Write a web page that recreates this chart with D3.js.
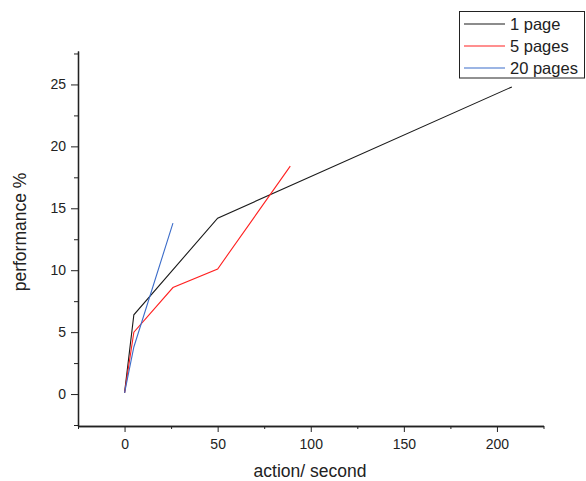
<!doctype html>
<html lang="en">
<head>
  <meta charset="UTF-8">
  <title>performance vs action rate</title>
  <style>
    * { padding: 0; margin: 0; }
    body { background: #fff; }
    text { font-family: "Liberation Sans", Arial, sans-serif; }
    .axis path, .axis line { stroke: #222; }
    .axis text { font-size: 14px; fill: #222; }
  </style>
  <script src="https://cdn.jsdelivr.net/npm/d3@7"></script>
</head>
<body>
  <svg width="586" height="481"></svg>
  <script>
    // data
    var seriesNames = ["1 page", "5 pages", "20 pages"];
    var seriesColors = ["#1a1a1a", "#ff2020", "#3b6cc9"];
    var onePageX = [0, 5, 50, 208];
    var onePageY = [0.1, 6.4, 14.2, 24.8];
    var fivePagesX = [0, 5, 26, 50, 89];
    var fivePagesY = [0.1, 5.0, 8.6, 10.1, 18.4];
    var twentyPagesX = [0, 5, 26];
    var twentyPagesY = [0.1, 3.8, 13.8];
    var xTicks = [0, 50, 100, 150, 200];
    var xMinor = [-25, 25, 75, 125, 175, 225];
    var yTicks = [0, 5, 10, 15, 20, 25];
    var yMinor = [-2.5, 2.5, 7.5, 12.5, 17.5, 22.5, 27.5];

    var series = [
      { xs: onePageX, ys: onePageY },
      { xs: fivePagesX, ys: fivePagesY },
      { xs: twentyPagesX, ys: twentyPagesY }
    ];

    var svg = d3.select("svg");

    var x = d3.scaleLinear().domain([-25, 225]).range([78, 543.5]);
    var y = d3.scaleLinear().domain([-2.58, 27.7]).range([426, 51]);

    // minor ticks first
    svg.append("g")
      .attr("class", "axis")
      .attr("transform", "translate(0," + y.range()[0] + ")")
      .call(d3.axisBottom(x).tickValues(xMinor).tickSize(3).tickSizeOuter(0).tickFormat(""));
    svg.append("g")
      .attr("class", "axis")
      .attr("transform", "translate(" + x.range()[0] + ",0)")
      .call(d3.axisLeft(y).tickValues(yMinor).tickSize(4).tickSizeOuter(0).tickFormat(""));

    svg.append("g")
      .attr("class", "axis")
      .attr("transform", "translate(0," + y.range()[0] + ")")
      .call(d3.axisBottom(x).tickValues(xTicks).tickSize(6).tickSizeOuter(0).tickPadding(7));
    svg.append("g")
      .attr("class", "axis")
      .attr("transform", "translate(" + x.range()[0] + ",0)")
      .call(d3.axisLeft(y).tickValues(yTicks).tickSize(7).tickSizeOuter(0).tickPadding(5));

    svg.selectAll(".axis path.domain").attr("stroke-width", 1.3);

    var line = d3.line()
      .x(function (d) { return x(d[0]); })
      .y(function (d) { return y(d[1]); });

    series.forEach(function (s, i) {
      var pts = s.xs.map(function (v, j) { return [v, s.ys[j]]; });
      svg.append("path")
        .datum(pts)
        .attr("fill", "none")
        .attr("stroke", seriesColors[i])
        .attr("stroke-width", 1.1)
        .attr("d", line);
    });

    // axis titles
    svg.append("text")
      .attr("x", 310)
      .attr("y", 477)
      .attr("text-anchor", "middle")
      .attr("font-size", 17.5)
      .attr("fill", "#222")
      .text("action/ second");
    svg.append("text")
      .attr("transform", "translate(26,232) rotate(-90)")
      .attr("text-anchor", "middle")
      .attr("font-size", 17.5)
      .attr("fill", "#222")
      .text("performance %");

    // legend
    var legend = svg.append("g");
    legend.append("rect")
      .attr("x", 459.5).attr("y", 11.5)
      .attr("width", 125).attr("height", 66.5)
      .attr("fill", "#fff").attr("stroke", "#222").attr("stroke-width", 1);
    seriesNames.forEach(function (name, i) {
      var ly = 24 + i * 22;
      legend.append("line")
        .attr("x1", 464).attr("x2", 505)
        .attr("y1", ly).attr("y2", ly)
        .attr("stroke", seriesColors[i]).attr("stroke-width", 1.1);
      legend.append("text")
        .attr("x", 510).attr("y", ly + 6)
        .attr("font-size", 16.5)
        .attr("fill", "#222")
        .text(name);
    });
  </script>
</body>
</html>
